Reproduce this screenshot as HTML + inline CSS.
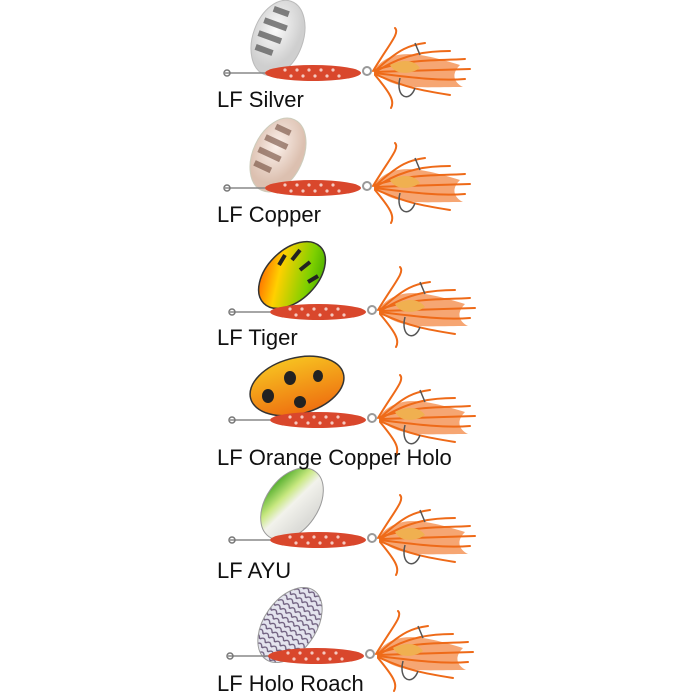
<!DOCTYPE html>
<html><head><style>
body{margin:0;background:#fff;width:700px;height:700px;overflow:hidden}
svg{position:absolute;left:0;top:0}
.l{position:absolute;left:217px;font-family:"Liberation Sans",sans-serif;font-size:22px;color:#111;line-height:1}
</style></head><body>
<svg width="700" height="700" viewBox="0 0 700 700">
<defs>
<radialGradient id="sil" cx="40%" cy="40%"><stop offset="0" stop-color="#fafafa"/><stop offset="1" stop-color="#cfcfcf"/></radialGradient>
<radialGradient id="cop" cx="40%" cy="40%"><stop offset="0" stop-color="#fbf0ea"/><stop offset="1" stop-color="#dcc0b0"/></radialGradient>
<linearGradient id="tig" x1="0" y1="1" x2="1" y2="0"><stop offset="0" stop-color="#ff3a00"/><stop offset=".35" stop-color="#ffd000"/><stop offset=".7" stop-color="#7ed000"/><stop offset="1" stop-color="#2a9a00"/></linearGradient>
<linearGradient id="ora" x1="0" y1="0" x2="0" y2="1"><stop offset="0" stop-color="#f7c020"/><stop offset="1" stop-color="#ee7010"/></linearGradient>
<linearGradient id="ayu" x1="0" y1="0" x2="1" y2="0.3"><stop offset="0" stop-color="#2a9a10"/><stop offset=".4" stop-color="#c8e880"/><stop offset=".6" stop-color="#f2f2ec"/><stop offset="1" stop-color="#dcdcd8"/></linearGradient>
<pattern id="scl" width="7" height="6" patternUnits="userSpaceOnUse"><rect width="7" height="6" fill="#e4e4ee"/><path d="M0 6 Q3.5 0 7 6" fill="none" stroke="#6a5a7a" stroke-width="1.3"/></pattern>
<g id="rig">
<path d="M-40 0 H0" stroke="#888" stroke-width="1.5"/>
<circle cx="-38" cy="0" r="3" fill="none" stroke="#777" stroke-width="1.5"/>
<ellipse cx="48" cy="0" rx="48" ry="8" fill="#d9472c"/>
<g fill="#f5c9c0"><circle cx="20" cy="-3" r="1.6"/><circle cx="32" cy="-3" r="1.6"/><circle cx="44" cy="-3" r="1.6"/><circle cx="56" cy="-3" r="1.6"/><circle cx="68" cy="-3" r="1.6"/><circle cx="26" cy="3" r="1.6"/><circle cx="38" cy="3" r="1.6"/><circle cx="50" cy="3" r="1.6"/><circle cx="62" cy="3" r="1.6"/><circle cx="74" cy="3" r="1.6"/></g>
<circle cx="102" cy="-2" r="4" fill="none" stroke="#999" stroke-width="2"/>
<path d="M108 -2 C125 -25 150 -22 195 -8 C185 2 190 10 198 14 C150 14 130 18 108 -2Z" fill="#f49050" opacity=".8"/>
<g stroke="#ee6a18" stroke-width="2" fill="none" stroke-linecap="round">
<path d="M108 -2 C125 -30 135 -40 130 -45"/><path d="M110 -2 C135 -25 145 -28 160 -30"/><path d="M110 -3 C150 -15 170 -12 200 -14"/><path d="M110 -1 L205 -4"/><path d="M110 0 C150 5 175 8 200 6"/><path d="M110 1 C140 15 160 18 185 22"/><path d="M110 2 C125 20 130 28 126 35"/><path d="M112 -2 C140 -20 165 -22 185 -22"/></g>
<path d="M125 -8 C140 -15 150 -12 155 -5 C145 2 130 2 125 -8Z" fill="#f0b050"/>
<path d="M150 -30 L155 -18 M135 5 C130 25 145 30 150 15" stroke="#555" stroke-width="1.5" fill="none"/>
</g>
</defs>

<ellipse cx="278" cy="38" rx="25" ry="39" transform="rotate(20 278 38)" fill="url(#sil)" stroke="#bbb"/>
<path d="M264 12 h16 M259 26 h24 M258 40 h24 M260 54 h18" stroke="#5a5a5a" stroke-width="6" opacity=".75" transform="rotate(20 278 38)"/>
<use href="#rig" x="265" y="73"/>
<ellipse cx="278" cy="155" rx="25" ry="39" transform="rotate(25 278 155)" fill="url(#cop)" stroke="#ccb"/>
<path d="M264 130 h16 M259 144 h24 M258 158 h24 M260 172 h18" stroke="#704a3a" stroke-width="6" opacity=".6" transform="rotate(25 278 155)"/>
<use href="#rig" x="265" y="188"/>
<ellipse cx="292" cy="275" rx="25" ry="40" transform="rotate(45 292 275)" fill="url(#tig)" stroke="#333" stroke-width="1.5"/>
<path d="M300 250 l-8 10 M310 262 l-10 8 M285 255 l-6 10 M318 276 l-10 6" stroke="#222" stroke-width="4"/>
<use href="#rig" x="270" y="312"/>
<ellipse cx="297" cy="386" rx="48" ry="28" transform="rotate(-15 297 386)" fill="url(#ora)" stroke="#333" stroke-width="1.5"/>
<g fill="#222"><ellipse cx="268" cy="396" rx="6" ry="7"/><ellipse cx="290" cy="378" rx="6" ry="7"/><ellipse cx="300" cy="402" rx="6" ry="6"/><ellipse cx="318" cy="376" rx="5" ry="6"/></g>
<use href="#rig" x="270" y="420"/>
<ellipse cx="292" cy="504" rx="26" ry="40" transform="rotate(35 292 504)" fill="url(#ayu)" stroke="#999"/>
<use href="#rig" x="270" y="540"/>
<ellipse cx="290" cy="625" rx="26" ry="42" transform="rotate(35 290 625)" fill="url(#scl)" stroke="#999"/>
<use href="#rig" x="268" y="656"/>
</svg>
<div class="l" style="top:89px">LF Silver</div>
<div class="l" style="top:204px">LF Copper</div>
<div class="l" style="top:327px">LF Tiger</div>
<div class="l" style="top:447px">LF Orange Copper Holo</div>
<div class="l" style="top:560px">LF AYU</div>
<div class="l" style="top:673px">LF Holo Roach</div>
</body></html>
